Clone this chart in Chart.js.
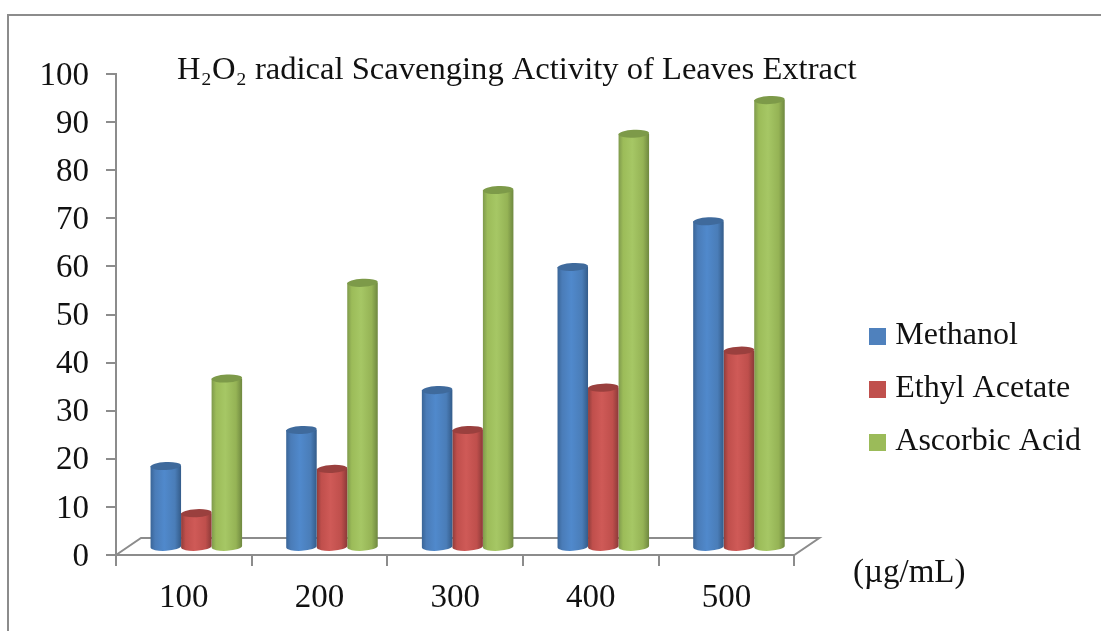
<!DOCTYPE html>
<html>
<head>
<meta charset="utf-8">
<script src="https://cdn.jsdelivr.net/npm/chart.js@4"></script>
<style>
    html, body { margin: 0; background: #fff; }
    #wrap { position: relative; width: 1101px; height: 631px; overflow: hidden; }
    #frame { position: absolute; left: 7px; top: 14px; width: 1200px; height: 800px; border: 2px solid #8c8c8c; }
    canvas { position: absolute; left: 0; top: 0; }
</style>
</head>
<body>
<div id="wrap">
    <div id="frame"></div>
    <canvas id="myChart" width="1101" height="631"></canvas>
</div>
<script>
const categories = ['100', '200', '300', '400', '500'];
const methanol = [18.5, 26, 34.3, 59.9, 69.4];
const ethylAcetate = [8.7, 17.9, 26, 34.8, 42.5];
const ascorbicAcid = [36.7, 56.6, 75.9, 87.6, 94.6];
const floorValue = 1.7;
const unitLabel = '(µg/mL)';

const axisGray = '#8c8c8c';
const fontName = '"Liberation Serif", serif';
const depthX = 12.5;
const depthY = 17;

const shades = {
    blue: ['#3a6597', '#4a7cb8', '#5089cc', '#4a7db8', '#345c8a', '#3f6a9c'],
    red: ['#8f3d3b', '#c04f4c', '#cf5a57', '#bf4f4c', '#8c3a38', '#9a403e'],
    green: ['#7f9a4c', '#9cbc59', '#a6c765', '#95b355', '#6f8840', '#7d9a49']
};

function cylinderFill(ctx, x0, x1, c) {
    const g = ctx.createLinearGradient(x0, 0, x1, 0);
    g.addColorStop(0, c[0]);
    g.addColorStop(0.15, c[1]);
    g.addColorStop(0.45, c[2]);
    g.addColorStop(0.8, c[3]);
    g.addColorStop(1, c[4]);
    return g;
}

// little square for the legend, drawn as an image so it can sit apart from the text
function swatch(color) {
    const c = document.createElement('canvas');
    c.width = 17;
    c.height = 17;
    const g = c.getContext('2d');
    g.fillStyle = color;
    g.fillRect(0, 0, 17, 17);
    return c;
}

const cylinders = {
    id: 'cylinders',
    afterLayout(chart) {
        chart.titleBlock.left = 177;
        chart.titleBlock.top = 51;
    },
    beforeDatasetsDraw(chart) {
        // floor of the 3d box, behind the bars
        const { ctx, chartArea } = chart;
        const b = chartArea.bottom;
        ctx.save();
        ctx.strokeStyle = axisGray;
        ctx.lineWidth = 2;
        ctx.beginPath();
        ctx.moveTo(chartArea.left, b);
        ctx.lineTo(chartArea.left + depthX * 2, b - depthY);
        ctx.lineTo(chartArea.right + depthX * 2, b - depthY);
        ctx.lineTo(chartArea.right, b);
        ctx.closePath();
        ctx.stroke();
        ctx.restore();
    },
    beforeDatasetDraw(chart, args) {
        const { ctx } = chart;
        const ds = chart.data.datasets[args.index];
        const c = shades[ds.shade];
        const meta = args.meta;
        ctx.save();
        meta.data.forEach((el) => {
            const r = el.width / 2;
            const x = el.x + depthX;
            const tilt = -0.05;
            ctx.fillStyle = cylinderFill(ctx, x - r, x + r, c);
            ctx.beginPath();
            ctx.ellipse(x, el.base, r, 4, tilt, 0, Math.PI);
            ctx.lineTo(x - r, el.y);
            ctx.lineTo(x + r, el.y);
            ctx.closePath();
            ctx.fill();
            ctx.fillStyle = c[5];
            ctx.beginPath();
            ctx.ellipse(x, el.y, r, 4, tilt, 0, Math.PI * 2);
            ctx.fill();
        });
        ctx.restore();
        return false;
    },
    afterDraw(chart) {
        const { ctx } = chart;
        ctx.save();
        ctx.fillStyle = '#111';
        ctx.font = '33px ' + fontName;
        ctx.textBaseline = 'alphabetic';
        ctx.fillText(unitLabel, 853, 582);
        ctx.restore();
    }
};

const ctx = document.getElementById('myChart').getContext('2d');

const myChart = new Chart(ctx, {
    type: 'bar',
    plugins: [cylinders],
    data: {
        labels: categories,
        datasets: [
            { label: 'Methanol', data: methanol, base: floorValue, backgroundColor: '#4f81bd', shade: 'blue' },
            { label: 'Ethyl Acetate', data: ethylAcetate, base: floorValue, backgroundColor: '#c0504d', shade: 'red' },
            { label: 'Ascorbic Acid', data: ascorbicAcid, base: floorValue, backgroundColor: '#9bbb59', shade: 'green' }
        ]
    },
    options: {
        responsive: false,
        animation: false,
        categoryPercentage: 0.675,
        barPercentage: 1,
        layout: { padding: { left: 0, right: 10, top: 35, bottom: 0 } },
        plugins: {
            title: {
                display: true,
                align: 'start',
                text: 'H₂O₂ radical Scavenging Activity of Leaves Extract',
                color: '#111',
                font: { family: fontName, size: 32.6, weight: 'normal' },
                padding: 0
            },
            legend: {
                position: 'right',
                align: 'start',
                maxWidth: 260,
                title: { display: true, text: ' ', font: { size: 10 }, padding: { top: 252, bottom: 0 } },
                labels: {
                    usePointStyle: true,
                    pointStyleWidth: 3,
                    boxHeight: 17,
                    padding: 21,
                    color: '#111',
                    font: { family: fontName, size: 32 },
                    generateLabels: (chart) => Chart.defaults.plugins.legend.labels.generateLabels(chart).map((item) => {
                        item.pointStyle = swatch(item.fillStyle);
                        return item;
                    })
                }
            },
            tooltip: { enabled: false }
        },
        scales: {
            x: {
                grid: { drawOnChartArea: false, color: axisGray, lineWidth: 2, tickLength: 11 },
                border: { color: axisGray, width: 2 },
                ticks: { color: '#111', font: { family: fontName, size: 33 }, padding: 13, maxRotation: 0 },
                afterFit: (s) => { s.height = 76; }
            },
            y: {
                min: 0,
                max: 100,
                grid: { drawOnChartArea: false, color: axisGray, lineWidth: 2, tickLength: 10 },
                border: { color: axisGray, width: 2 },
                ticks: { color: '#111', stepSize: 10, font: { family: fontName, size: 33 }, padding: 17, labelOffset: 2 },
                afterFit: (s) => { s.width = 116; }
            },
            spacer: {
                position: 'right',
                grid: { display: false },
                border: { display: false },
                ticks: { display: false },
                afterFit: (s) => { s.width = 61; }
            }
        }
    }
});
</script>
</body>
</html>
